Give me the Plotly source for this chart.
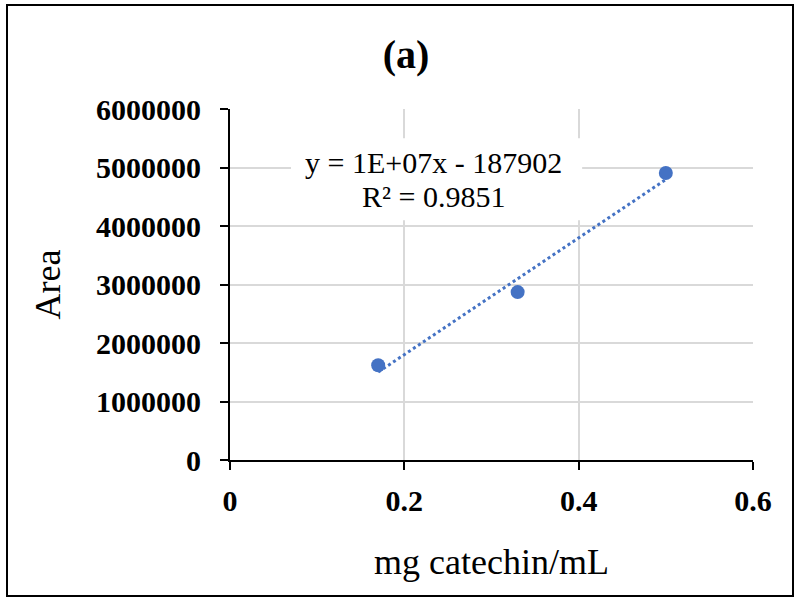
import numpy as np
import plotly.graph_objects as go

conc = [0.17, 0.33, 0.50]
area = [1620000, 2870000, 4905000]
x_ticks = [0, 0.2, 0.4, 0.6]
x_tick_text = ["0", "0.2", "0.4", "0.6"]
y_ticks = [0, 1000000, 2000000, 3000000, 4000000, 5000000, 6000000]
y_tick_text = [str(v) for v in y_ticks]
eq_line1 = "y = 1E+07x - 187902"
eq_line2 = "R² = 0.9851"

slope, intercept = np.polyfit(conc, area, 1)
fit_x = [min(conc), max(conc)]
fit_y = [slope * v + intercept for v in fit_x]

blue = "#4472C4"
serif = "Liberation Serif, Times New Roman, serif"

fig = go.Figure()
fig.add_trace(go.Scatter(x=fit_x, y=fit_y, mode="lines",
                         line=dict(color=blue, width=3, dash="dot"),
                         showlegend=False, hoverinfo="skip"))
fig.add_trace(go.Scatter(x=conc, y=area, mode="markers",
                         marker=dict(color=blue, size=14),
                         showlegend=False))

fig.update_layout(
    width=797, height=599,
    margin=dict(l=230, r=44, t=109, b=139),
    paper_bgcolor="white", plot_bgcolor="white",
    font=dict(family=serif, color="black"),
    title=dict(text="<b>(a)</b>", x=406/797, xanchor="center",
               y=1-54/599, yanchor="middle",
               font=dict(size=40, family=serif, color="black")),
    xaxis=dict(range=[0, 0.6], tickvals=x_ticks, ticktext=x_tick_text,
               showgrid=True, gridcolor="#d9d9d9", gridwidth=1.5,
               showline=True, linecolor="black", linewidth=2,
               ticks="outside", ticklen=8, tickwidth=2, tickcolor="black",
               tickfont=dict(size=30, family=serif, color="black", weight="bold"),
               ticklabelstandoff=5,
               zeroline=False,
               title=dict(text="mg catechin/mL", font=dict(size=36, family=serif, color="black"),
                          standoff=33)),
    yaxis=dict(range=[0, 6000000], tickvals=y_ticks, ticktext=y_tick_text,
               showgrid=True, gridcolor="#d9d9d9", gridwidth=1.5,
               showline=True, linecolor="black", linewidth=2,
               ticks="outside", ticklen=8, tickwidth=2, tickcolor="black",
               tickfont=dict(size=30, family=serif, color="black", weight="bold"),
               ticklabelstandoff=13,
               zeroline=False,
               title=dict(text="Area", font=dict(size=36, family=serif, color="black"),
                          standoff=24)),
)

# white box behind the trendline label (hides gridlines)
fig.add_shape(type="rect", xref="x", yref="y", layer="between",
              x0=0.07, x1=0.404, y0=4100000, y1=5500000,
              fillcolor="white", line=dict(width=0))

fig.add_annotation(x=0.233, y=5080000, xref="x", yref="y",
                   text=eq_line1, showarrow=False, yanchor="middle",
                   font=dict(size=30, family=serif, color="black"))
fig.add_annotation(x=0.233, y=4500000, xref="x", yref="y",
                   text=eq_line2, showarrow=False, yanchor="middle",
                   font=dict(size=30, family=serif, color="black"))

fig.add_shape(type="rect", xref="paper", yref="paper",
              x0=-223/523, x1=1+40/523, y0=-136/351, y1=1+104/351,
              line=dict(color="black", width=2))

fig.write_html("out.html")
